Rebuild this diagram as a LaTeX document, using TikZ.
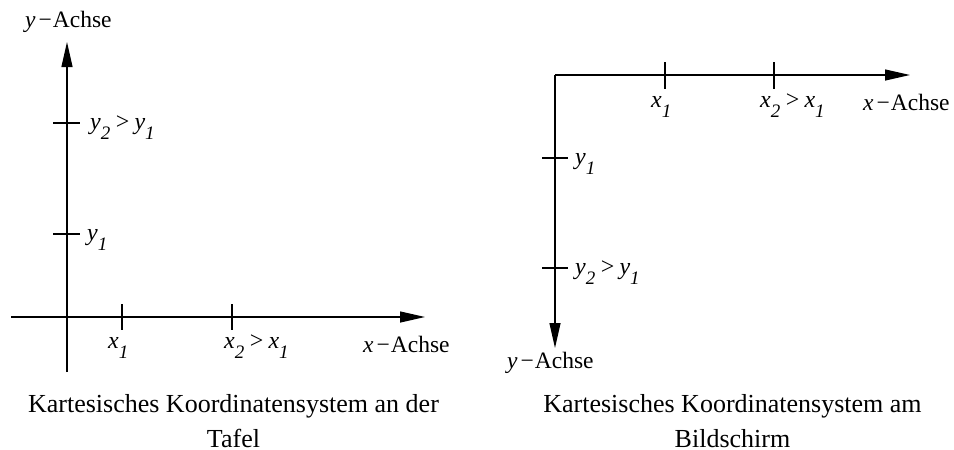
\documentclass[tikz,border=0pt]{standalone}
\usepackage{fontspec}
\setmainfont{Liberation Serif}
\usetikzlibrary{arrows.meta}
\newcommand\sbx[1]{\raisebox{-10pt}{\fontsize{19}{19}\selectfont #1}}
\newcommand\axlab[1]{\textit{#1}\hspace{3pt}−\hspace{1pt}Achse}
\begin{document}
\begin{tikzpicture}[x=1pt,y=-1pt,
  axis/.style={line width=1.2pt,-{Triangle[length=25pt,width=11pt]}},
  tick/.style={line width=1.1pt},
  lab/.style={anchor=base west,inner sep=0pt,font=\fontsize{24}{28}\selectfont\itshape},
  axl/.style={anchor=base west,inner sep=0pt,font=\fontsize{23.5}{28}\selectfont},
  captext/.style={align=center,inner sep=0pt,anchor=base,font=\fontsize{26}{35}\selectfont}]
\useasboundingbox (0,0) rectangle (954,450);
% left system
\coordinate (lyb) at (67,372);
\coordinate (lyt) at (67,42);
\coordinate (lxl) at (11,317);
\coordinate (lxr) at (425,317);
\draw[axis] (lyb) -- (lyt);
\draw[axis] (lxl) -- (lxr);
\coordinate (lt1a) at (53,123); \coordinate (lt1b) at (80,123);
\coordinate (lt2a) at (53,234); \coordinate (lt2b) at (80,234);
\coordinate (lt3a) at (122,304); \coordinate (lt3b) at (122,330);
\coordinate (lt4a) at (232,304); \coordinate (lt4b) at (232,330);
\draw[tick] (lt1a) -- (lt1b);
\draw[tick] (lt2a) -- (lt2b);
\draw[tick] (lt3a) -- (lt3b);
\draw[tick] (lt4a) -- (lt4b);
\node[lab] (ly2) at (90,129) {y\sbx{2}\,>\,y\sbx{1}};
\node[lab] (ly1) at (87,240) {y\sbx{1}};
\node[lab] (lx1) at (108,348) {x\sbx{1}};
\node[lab] (lx2) at (224,348) {x\sbx{2}\,>\,x\sbx{1}};
\node[axl] (lxa) at (363,352) {\axlab{x}};
\node[axl] (lya) at (25,27) {\axlab{y}};
\node[captext] (lcap) at (233.5,447) {Kartesisches Koordinatensystem an der\\Tafel};
% right system
\coordinate (ro) at (555,75);
\coordinate (rxr) at (910,75);
\coordinate (ryb) at (555,348);
\draw[axis] (ro) -- (rxr);
\draw[axis] (ro) -- (ryb);
\coordinate (rt1a) at (665,62); \coordinate (rt1b) at (665,89);
\coordinate (rt2a) at (774,62); \coordinate (rt2b) at (774,89);
\coordinate (rt3a) at (542,158); \coordinate (rt3b) at (568,158);
\coordinate (rt4a) at (542,268); \coordinate (rt4b) at (568,268);
\draw[tick] (rt1a) -- (rt1b);
\draw[tick] (rt2a) -- (rt2b);
\draw[tick] (rt3a) -- (rt3b);
\draw[tick] (rt4a) -- (rt4b);
\node[lab] (rx1) at (651,107) {x\sbx{1}};
\node[lab] (rx2) at (760,107) {x\sbx{2}\,>\,x\sbx{1}};
\node[axl] (rxa) at (863,110) {\axlab{x}};
\node[lab] (ry1) at (575,164) {y\sbx{1}};
\node[lab] (ry2) at (575,274) {y\sbx{2}\,>\,y\sbx{1}};
\node[axl] (rya) at (507,368) {\axlab{y}};
\node[captext] (rcap) at (732.5,447) {Kartesisches Koordinatensystem am\\Bildschirm};
\end{tikzpicture}
\end{document}
